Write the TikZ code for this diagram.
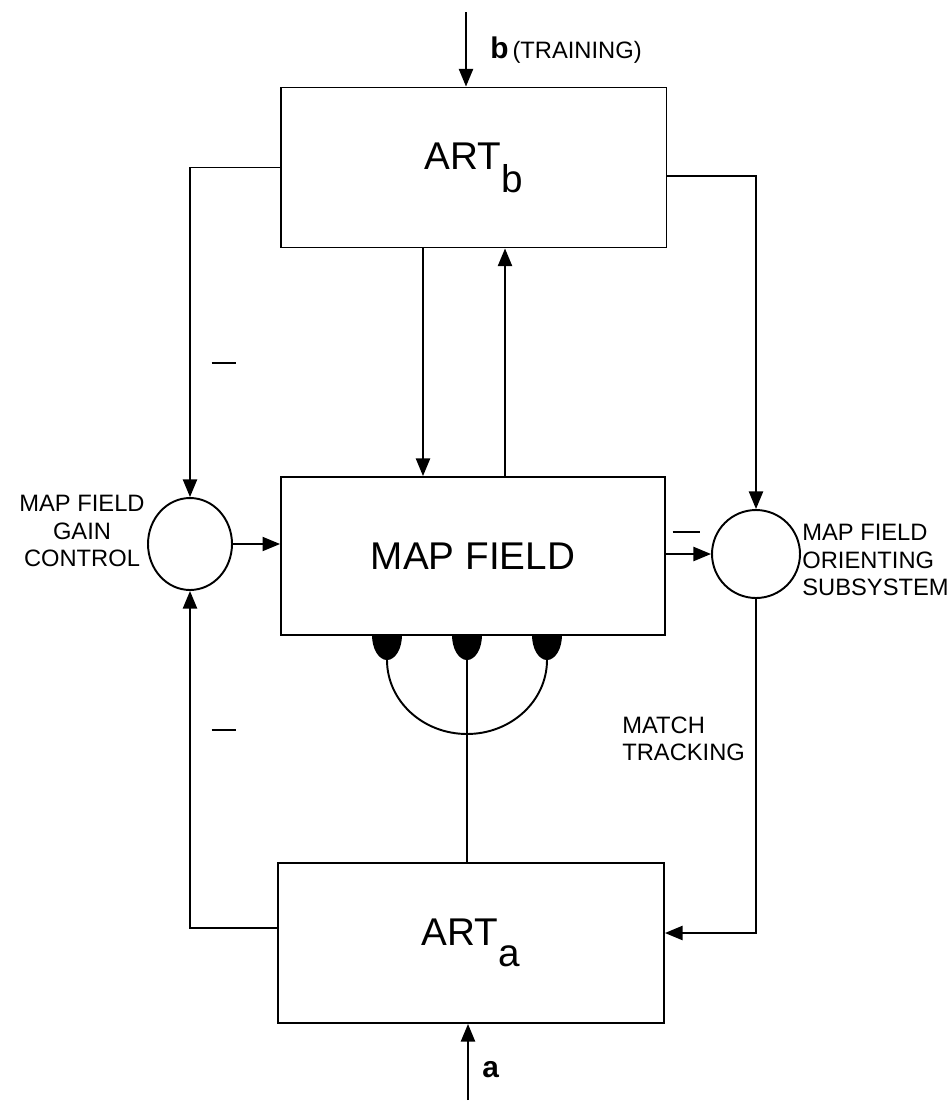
\documentclass[tikz,border=0pt]{standalone}
\usepackage{fontspec}
\setmainfont{Liberation Sans}
\usetikzlibrary{arrows.meta,positioning,calc,shapes.geometric}

\begin{document}
\begin{tikzpicture}[x=0.02cm, y=0.02cm,
  block/.style={draw, line width=1.1pt, minimum width=7.72cm, minimum height=3.2cm,
                inner sep=0pt, font=\fontsize{22}{26}\selectfont},
  junction/.style={draw, ellipse, line width=1.1pt, inner sep=0pt},
  arrow/.style={-{Triangle[length=10pt,width=8pt]}, line width=1.1pt},
  wire/.style={line width=1.1pt},
  note/.style={font=\fontsize{13.5}{15.5}\selectfont, inner sep=0pt},
  sign/.style={inner sep=0pt}
]
\useasboundingbox (0,0) rectangle (951,-1103);
\node[block] (ARTb) at (473.5,-167.5) {ART\raisebox{-0.6em}{b}};
\node[block, minimum width=7.68cm, minimum height=3.16cm] (MF) at (473,-556) {MAP FIELD};
\node[block] (ARTa) at (471,-943) {ART\raisebox{-0.55em}{a}};
\node[junction, minimum width=1.68cm, minimum height=1.84cm] (GC) at (190,-544) {};
\node[junction, minimum width=1.76cm, minimum height=1.76cm] (OS) at (756,-554) {};
\node[note, align=center] (GClbl) at (82,-531) {MAP FIELD\\GAIN\\CONTROL};
\node[note, align=left, anchor=west] (OSlbl) at (802,-560) {MAP FIELD\\ORIENTING\\SUBSYSTEM};
\node[note, align=left, anchor=west] (MTlbl) at (622,-739) {MATCH\\TRACKING};
\node[note, anchor=west] (blbl) at (490,-50) {{\fontsize{17}{17}\selectfont\textbf{b}}\,(TRAINING)};
\node[note, anchor=west] (albl) at (482,-1070) {\fontsize{17}{17}\selectfont\textbf{a}};
\node[sign] (m1) at (224,-363) {\rule{0.5cm}{1.3pt}};
\node[sign] (m2) at (224,-730) {\rule{0.5cm}{1.3pt}};
\node[sign] (m3) at (686,-532) {\rule{0.54cm}{1.3pt}};
% inputs
\coordinate (bin) at (466,-12);
\coordinate (ain) at (468,-1100);
\draw[arrow] (bin) -- (bin |- ARTb.north);
\draw[arrow] (ain) -- (ain |- ARTa.south);
% ART_b <-> map field
\coordinate (dn) at (423,0);
\coordinate (up) at (505,0);
\draw[arrow] (ARTb.south -| dn) -- (MF.north -| dn);
\draw[arrow] (MF.north -| up) -- (ARTb.south -| up);
% gain control
\draw[arrow] (ARTb.west) -| (GC.north);
\draw[arrow] ([yshift=0.3cm]ARTa.west) -| (GC.south);
\draw[arrow] (GC.east) -- (GC.east -| MF.west);
% orienting subsystem
\draw[arrow] ([yshift=-0.17cm]ARTb.east) -| (OS.north);
\draw[arrow] (MF.east |- OS.west) -- (OS.west);
\draw[arrow] (OS.south) |- ([yshift=0.2cm]ARTa.east);
% ART_a -> map field
\foreach \k/\x in {1/387,2/467,3/547} \coordinate (k\k) at (\x,-635);
\foreach \k in {1,2,3}
  \fill (k\k) ++(15,0) arc[start angle=0, end angle=-180, x radius=15, y radius=25] -- cycle;
\draw[wire] ([yshift=-0.5cm]k1) arc[start angle=180, end angle=360, x radius=80, y radius=74];
\draw[wire] ([yshift=-0.5cm]k2) -- (k2 |- ARTa.north);
\end{tikzpicture}
\end{document}
